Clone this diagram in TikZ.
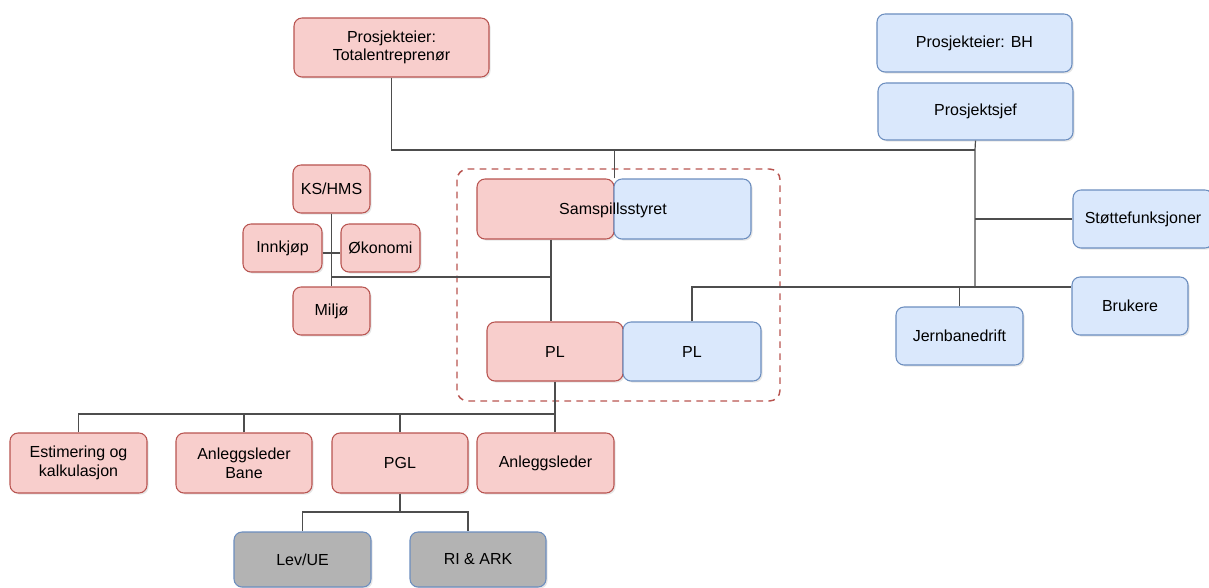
\documentclass[tikz,border=0pt]{standalone}
\usepackage{fontspec}
\setmainfont{Liberation Sans}
\usetikzlibrary{shadows}
\definecolor{redfill}{HTML}{F8CECC}
\definecolor{redline}{HTML}{B85450}
\definecolor{bluefill}{HTML}{DAE8FC}
\definecolor{blueline}{HTML}{6C8EBF}
\definecolor{greyfill}{HTML}{B3B3B3}
\definecolor{wire}{HTML}{4D4D4D}
\begin{document}
\begin{tikzpicture}[x=0.75pt,y=-0.75pt,
  box/.style={rounded corners=6pt, line width=0.8pt, align=center, inner sep=2pt,
    font=\fontsize{12}{14}\selectfont,
    drop shadow={shadow xshift=1.2pt, shadow yshift=-1.2pt, opacity=0.2}},
  sz/.style 2 args={minimum width=#1*0.75pt, minimum height=#2*0.75pt},
  contractor/.style={box, fill=redfill, draw=redline},
  client/.style={box, fill=bluefill, draw=blueline},
  external/.style={box, fill=greyfill, draw=blueline},
  link/.style={draw=wire, line width=0.9pt},
  label/.style={font=\fontsize{12}{14}\selectfont, inner sep=0pt}]
\useasboundingbox (0,0) rectangle (1209,588);

% partnering frame
\draw[redline, line width=1.1pt, dash pattern=on 5pt off 4pt, rounded corners=8pt]
  (457,169) rectangle (780,401);

% owners and client side
\node[contractor, sz={195}{59}] (te) at (391.5,47.5) {Prosjekteier:\\Totalentreprenør};
\node[client, sz={195}{58}] (bh) at (974.5,43) {Prosjekteier: BH};
\node[client, sz={195}{57}] (psj) at (975.5,111.5) {Prosjektsjef};
\node[client, sz={140}{58}] (stotte) at (1143,219) {Støttefunksjoner};
\node[client, sz={116}{58}] (brukere) at (1130,306) {Brukere};
\node[client, sz={127}{58}] (jern) at (959.5,336) {Jernbanedrift};

% partnering board and project managers
\node[contractor, sz={137}{60}] (samR) at (545.5,209) {};
\node[client, sz={137}{60}] (samB) at (682.5,209) {};
\node[label] (samtxt) at (613,210) {Samspillsstyret};
\node[contractor, sz={136}{59}] (plR) at (555,351.5) {PL};
\node[client, sz={138}{59}] (plB) at (692,351.5) {PL};

% staff functions
\node[contractor, sz={77}{48}] (kshms) at (331.5,189) {KS/HMS};
\node[contractor, sz={79}{48}] (innkjop) at (282.5,248) {Innkjøp};
\node[contractor, sz={79}{48}] (okonomi) at (380.5,248) {Økonomi};
\node[contractor, sz={77}{48}] (miljo) at (331.5,311) {Miljø};

% line organisation
\node[contractor, sz={137}{60}] (est) at (78.5,463) {Estimering og\\kalkulasjon};
\node[contractor, sz={136}{60}] (alb) at (244,463) {Anleggsleder\\Bane};
\node[contractor, sz={136}{60}] (pgl) at (400,463) {PGL};
\node[contractor, sz={137}{60}] (anl) at (545.5,463) {Anleggsleder};
\node[external, sz={137}{55}] (lev) at (302.5,559.5) {Lev/UE};
\node[external, sz={136}{55}] (ri) at (478,559.5) {RI \& ARK};

% junction points
\coordinate (hub) at (975,150);
\coordinate (jr) at (975,287);
\coordinate (bk) at (brukere.west |- jr);
\coordinate (c1) at (551,277);
\coordinate (c2) at (332,253);
\coordinate (bus) at (555,414);
\coordinate (bus2) at (400,512);
\coordinate (rj) at (468,512);

% connectors
\draw[link] (te.south) |- (hub);
\draw[link] (psj.south) -- (hub) -- (jr);
\draw[link] (samR.north east) -- (samR.north east |- hub);
\draw[link] (stotte.west) -- (stotte.west -| hub);
\draw[link] (plB.north) |- (bk);
\draw[link] (jern.north) -- (jern.north |- jr);
\draw[link] (c1 |- samR.south) -- (c1 |- plR.north);
\draw[link] (c1) -- (c1 -| kshms.south);
\draw[link] (kshms.south) -- (miljo.north);
\draw[link] (innkjop.east |- c2) -- (okonomi.west |- c2);
\draw[link] (plR.south) -- (plR.south |- anl.north);
\draw[link] (est.north) |- (bus);
\draw[link] (alb.north) -- (alb.north |- bus);
\draw[link] (pgl.north) -- (pgl.north |- bus);
\draw[link] (pgl.south) -- (bus2);
\draw[link] (lev.north) |- (rj) -- (rj |- ri.north);
\end{tikzpicture}
\end{document}
